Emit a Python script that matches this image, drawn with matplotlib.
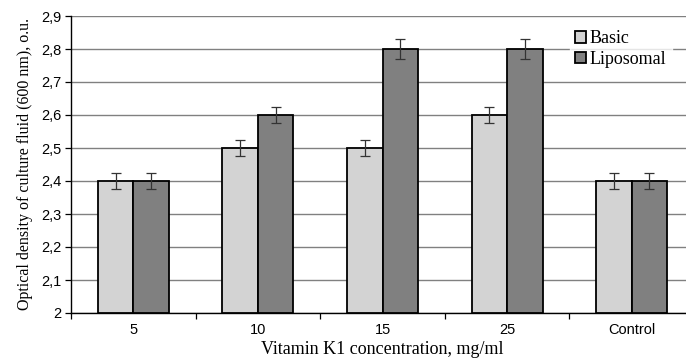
import matplotlib
matplotlib.use("Agg")
import matplotlib.pyplot as plt
import numpy as np

categories = ["5", "10", "15", "25", "Control"]
basic = [2.4, 2.5, 2.5, 2.6, 2.4]
liposomal = [2.4, 2.6, 2.8, 2.8, 2.4]
basic_err = [0.025, 0.025, 0.025, 0.025, 0.025]
liposomal_err = [0.025, 0.025, 0.03, 0.03, 0.025]
yticks = [2.0, 2.1, 2.2, 2.3, 2.4, 2.5, 2.6, 2.7, 2.8, 2.9]
ytick_labels = ["2", "2,1", "2,2", "2,3", "2,4", "2,5", "2,6", "2,7", "2,8", "2,9"]

fig = plt.figure(figsize=(6.86, 3.58), dpi=100)
# the plot area runs slightly past the right edge of the figure
ax = fig.add_axes([71 / 686, 1 - 313 / 358, 623 / 686, 297 / 358])

x = np.arange(len(categories))
w = 0.285
err_kw = dict(ecolor="#333333", elinewidth=0.9, capsize=3.5, capthick=0.9)
ax.bar(x - w / 2, np.array(basic) - 2, w, bottom=2, color="#d3d3d3",
       edgecolor="black", linewidth=1.3, yerr=basic_err, error_kw=err_kw,
       label="Basic", zorder=3)
ax.bar(x + w / 2, np.array(liposomal) - 2, w, bottom=2, color="#808080",
       edgecolor="black", linewidth=1.3, yerr=liposomal_err, error_kw=err_kw,
       label="Liposomal", zorder=3)

ax.set_xlim(-0.5, len(categories) - 0.5)
ax.set_ylim(2.0, 2.9)
ax.set_yticks(yticks)
ax.set_yticklabels(ytick_labels, fontsize=10.5, family="Liberation Sans")
ax.set_xticks(x)
ax.set_xticklabels(categories, fontsize=10.5, family="Liberation Sans")
ax.tick_params(axis="x", length=0, pad=7)
ax.set_xticks(np.arange(-0.5, len(categories) + 0.5, 1), minor=True)
ax.tick_params(axis="x", which="minor", length=4, direction="out", width=0.9)
ax.tick_params(axis="y", length=4, direction="out", width=0.9, pad=3)

ax.yaxis.grid(True, color="#808080", linewidth=1.0, zorder=0)
ax.set_axisbelow(True)
for s in ["top", "right"]:
    ax.spines[s].set_visible(False)
ax.spines["left"].set_linewidth(1.0)
ax.spines["bottom"].set_linewidth(1.0)

ax.set_ylabel("Optical density of culture fluid (600 nm), o.u.",
              family="Liberation Serif", fontsize=11.5, labelpad=6)
ax.set_xlabel("Vitamin K1 concentration, mg/ml",
              family="Liberation Serif", fontsize=13, labelpad=3)

leg = ax.legend(loc="upper left", bbox_to_anchor=(490 / 623, 1.0),
                frameon=True, fancybox=False, edgecolor="white",
                prop={"family": "Liberation Serif", "size": 13},
                handlelength=0.6, handleheight=0.6, handletextpad=0.2,
                labelspacing=0.2, borderpad=0.3)
leg.get_frame().set_facecolor("white")
leg.set_zorder(5)

fig.savefig("out.png", dpi=100)
